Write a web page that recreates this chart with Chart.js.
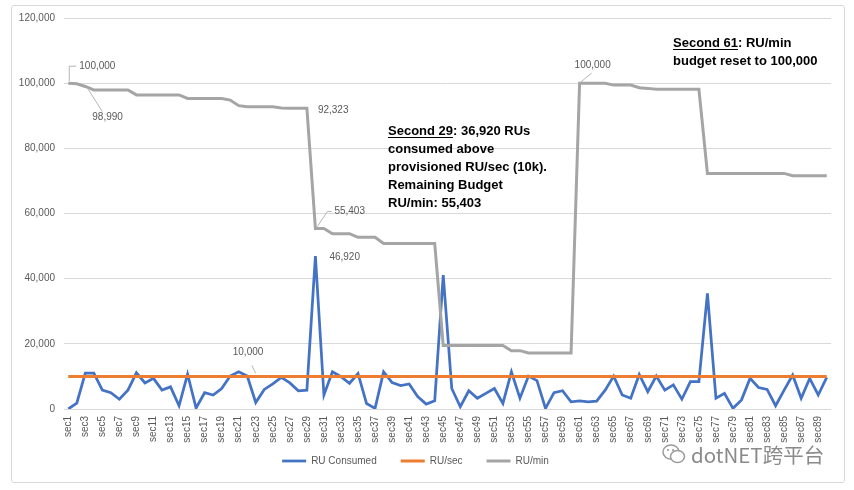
<!DOCTYPE html>
<html>
<head>
<meta charset="utf-8">
<script src="https://cdn.jsdelivr.net/npm/chart.js@4.4.1/dist/chart.umd.min.js"></script>
<style>
html,body{margin:0;padding:0;background:#fff;}
#wrap{position:relative;width:854px;height:490px;overflow:hidden;}
#frame{position:absolute;left:11px;top:5px;width:832px;height:476px;border:1px solid #d9d9d9;border-radius:3px;pointer-events:none;}
#c{position:absolute;left:0;top:0;}
#wm{position:absolute;left:662px;top:439px;height:30px;display:flex;align-items:center;font-family:"Noto Sans CJK SC","Noto Sans",sans-serif;font-size:20.5px;color:#8a8a8a;white-space:nowrap;}
#wm svg{margin-right:5px;}
</style>
</head>
<body>
<div id="wrap">
  <canvas id="c" width="854" height="490"></canvas>
  <div id="frame"></div>
  <div id="wm"><svg width="24" height="22" viewBox="0 0 24 22"><ellipse cx="9" cy="9" rx="8" ry="7" fill="none" stroke="#9a9a9a" stroke-width="1.5"/><ellipse cx="15.5" cy="13.5" rx="7" ry="6" fill="#fff" stroke="#9a9a9a" stroke-width="1.5"/><circle cx="6" cy="7" r="1.1" fill="#9a9a9a"/><circle cx="11" cy="7" r="1.1" fill="#9a9a9a"/></svg><span>dotNET跨平台</span></div>
</div>
<script>
// ---- data ----
const categories = Array.from({length: 90}, (_, k) => 'sec' + (k + 1));
const ruConsumed = [
  0, 1800, 11010, 11000, 5800, 5000, 3000, 5800, 11100, 8000,
  9400, 5800, 6800, 1000, 10700, 300, 5000, 4300, 6300, 10100,
  11400, 10100, 2000, 6000, 7700, 9700, 8000, 5600, 5800, 46920,
  4300, 11400, 9900, 7900, 10900, 1700, 200, 11400, 8100, 7200,
  7700, 3800, 1500, 2500, 41100, 6300, 700, 5600, 3300, 4800,
  6300, 1700, 11400, 3300, 10100, 8700, 200, 5000, 5600, 2200,
  2500, 2200, 2400, 5800, 10100, 4300, 3300, 10600, 5300, 10100,
  5800, 7400, 3000, 8400, 8400, 35500, 3300, 4800, 200, 2800,
  9400, 6600, 6000, 1000, 5800, 10400, 3300, 9400, 4300, 9700
];
const ruPerSec = [
  10000,10000,10000,10000,10000,10000,10000,10000,10000,10000,
  10000,10000,10000,10000,10000,10000,10000,10000,10000,10000,
  10000,10000,10000,10000,10000,10000,10000,10000,10000,10000,
  10000,10000,10000,10000,10000,10000,10000,10000,10000,10000,
  10000,10000,10000,10000,10000,10000,10000,10000,10000,10000,
  10000,10000,10000,10000,10000,10000,10000,10000,10000,10000,
  10000,10000,10000,10000,10000,10000,10000,10000,10000,10000,
  10000,10000,10000,10000,10000,10000,10000,10000,10000,10000,
  10000,10000,10000,10000,10000,10000,10000,10000,10000,10000
];
const ruPerMin = [
  100000, 99800, 98990, 97900, 97900, 97900, 97900, 97900, 96400, 96400,
  96400, 96400, 96400, 96400, 95300, 95300, 95300, 95300, 95300, 94800,
  93100, 92750, 92750, 92750, 92750, 92400, 92323, 92323, 92323, 55403,
  55403, 53800, 53800, 53800, 52700, 52700, 52700, 50800, 50800, 50800,
  50800, 50800, 50800, 50800, 19500, 19500, 19500, 19500, 19500, 19500,
  19500, 19500, 17900, 17900, 17200, 17200, 17200, 17200, 17200, 17200,
  100000, 100000, 100000, 100000, 99400, 99400, 99400, 98600, 98400, 98100,
  98100, 98100, 98100, 98100, 98100, 72300, 72300, 72300, 72300, 72300,
  72300, 72300, 72300, 72300, 72300, 71600, 71600, 71600, 71600, 71600
];
const yTicks = [0, 20000, 40000, 60000, 80000, 100000, 120000];
const seriesNames = ['RU Consumed', 'RU/sec', 'RU/min'];

// ---- styling ----
const FONT = '"Liberation Sans", Arial, sans-serif';
const TXT = '#595959';
const fmt = v => v.toLocaleString('en-US');

// data labels: dataset index, point index, placement
const pointLabels = [
  {ds: 2, i: 0,  dx: 11, dy: -17, leader: [[1, -2], [1, -17], [8, -17]]},
  {ds: 2, i: 2,  dx: 7,  dy: 31,  leader: [[3, 3], [17, 25]]},
  {ds: 2, i: 28, dx: 11, dy: 2,   leader: null},
  {ds: 2, i: 29, dx: 19, dy: -17, leader: [[2, -2], [12, -17], [16, -17]]},
  {ds: 0, i: 29, dx: 14, dy: 1,   leader: null},
  {ds: 1, i: 22, dx: -23, dy: -24, leader: [[0, -3], [-4, -11]]},
  {ds: 2, i: 60, dx: -5, dy: -18, leader: [[1, -1], [12, -10]]}
];

const layoutPlugin = {
  id: 'legendShift',
  afterLayout(chart) {
    const lg = chart.legend;
    if (lg) { lg.top -= 13; lg.bottom -= 13; }
  }
};

const labelPlugin = {
  id: 'pointLabels',
  afterDatasetsDraw(chart) {
    const ctx = chart.ctx;
    ctx.save();
    ctx.font = '10px ' + FONT;
    ctx.textBaseline = 'middle';
    ctx.textAlign = 'left';
    for (const L of pointLabels) {
      const el = chart.getDatasetMeta(L.ds).data[L.i];
      const val = chart.data.datasets[L.ds].data[L.i];
      if (L.leader) {
        ctx.strokeStyle = '#b5b5b5';
        ctx.lineWidth = 1;
        ctx.beginPath();
        L.leader.forEach((p, k) => {
          const x = el.x + p[0], y = el.y + p[1];
          if (k === 0) ctx.moveTo(x, y); else ctx.lineTo(x, y);
        });
        ctx.stroke();
      }
      ctx.fillStyle = TXT;
      ctx.fillText(fmt(val), el.x + L.dx, el.y + L.dy);
    }
    // annotations
    ctx.fillStyle = '#000';
    ctx.font = 'bold 13px ' + FONT;
    const rich = (x, y, parts) => {
      let cx = x;
      for (const p of parts) {
        ctx.fillText(p.t, cx, y);
        const w = ctx.measureText(p.t).width;
        if (p.u) ctx.fillRect(cx, y + 6, w, 1);
        cx += w;
      }
    };
    rich(388, 131, [{t: 'Second 29', u: true}, {t: ': 36,920 RUs'}]);
    rich(388, 149, [{t: 'consumed above'}]);
    rich(388, 167, [{t: 'provisioned RU/sec (10k).'}]);
    rich(388, 185, [{t: 'Remaining Budget'}]);
    rich(388, 203, [{t: 'RU/min: 55,403'}]);
    rich(673, 43, [{t: 'Second 61', u: true}, {t: ': RU/min'}]);
    rich(673, 61, [{t: 'budget reset to 100,000'}]);
    ctx.restore();
  }
};

new Chart(document.getElementById('c'), {
  type: 'line',
  data: {
    labels: categories,
    datasets: [
      {label: seriesNames[0], data: ruConsumed, borderColor: '#4472C4', backgroundColor: '#4472C4', borderWidth: 2.75, pointRadius: 0, tension: 0, order: 3},
      {label: seriesNames[1], data: ruPerSec, borderColor: '#ED7D31', backgroundColor: '#ED7D31', borderWidth: 3, pointRadius: 0, tension: 0, order: 2},
      {label: seriesNames[2], data: ruPerMin, borderColor: '#A5A5A5', backgroundColor: '#A5A5A5', borderWidth: 3, pointRadius: 0, tension: 0, order: 1}
    ]
  },
  options: {
    responsive: false,
    animation: false,
    devicePixelRatio: 1,
    layout: {padding: {left: 0, top: 18, right: 23, bottom: 1}},
    plugins: {
      tooltip: {enabled: false},
      legend: {
        position: 'bottom',
        labels: {
          usePointStyle: true,
          pointStyle: 'line',
          pointStyleWidth: 24,
          padding: 24,
          color: TXT,
          font: {family: FONT, size: 10},
          sort: (a, b) => a.datasetIndex - b.datasetIndex
        }
      }
    },
    scales: {
      x: {
        offset: true,
        grid: {display: false, drawTicks: false},
        border: {display: false},
        ticks: {
          autoSkip: false, minRotation: 90, maxRotation: 90, padding: 7,
          color: TXT, font: {family: FONT, size: 10},
          callback: (v, idx) => idx % 2 === 0 ? categories[idx] : ''
        },
        afterFit: s => { s.height = 36; }
      },
      y: {
        min: yTicks[0], max: yTicks[yTicks.length - 1],
        afterBuildTicks: s => { s.ticks = yTicks.map(v => ({value: v})); },
        grid: {color: '#d9d9d9', lineWidth: 1, drawTicks: false},
        border: {display: false},
        ticks: {padding: 9, color: TXT, font: {family: FONT, size: 10}, callback: v => fmt(v)},
        afterFit: s => { s.width = 64; }
      }
    }
  },
  plugins: [layoutPlugin, labelPlugin]
});
</script>
</body>
</html>
